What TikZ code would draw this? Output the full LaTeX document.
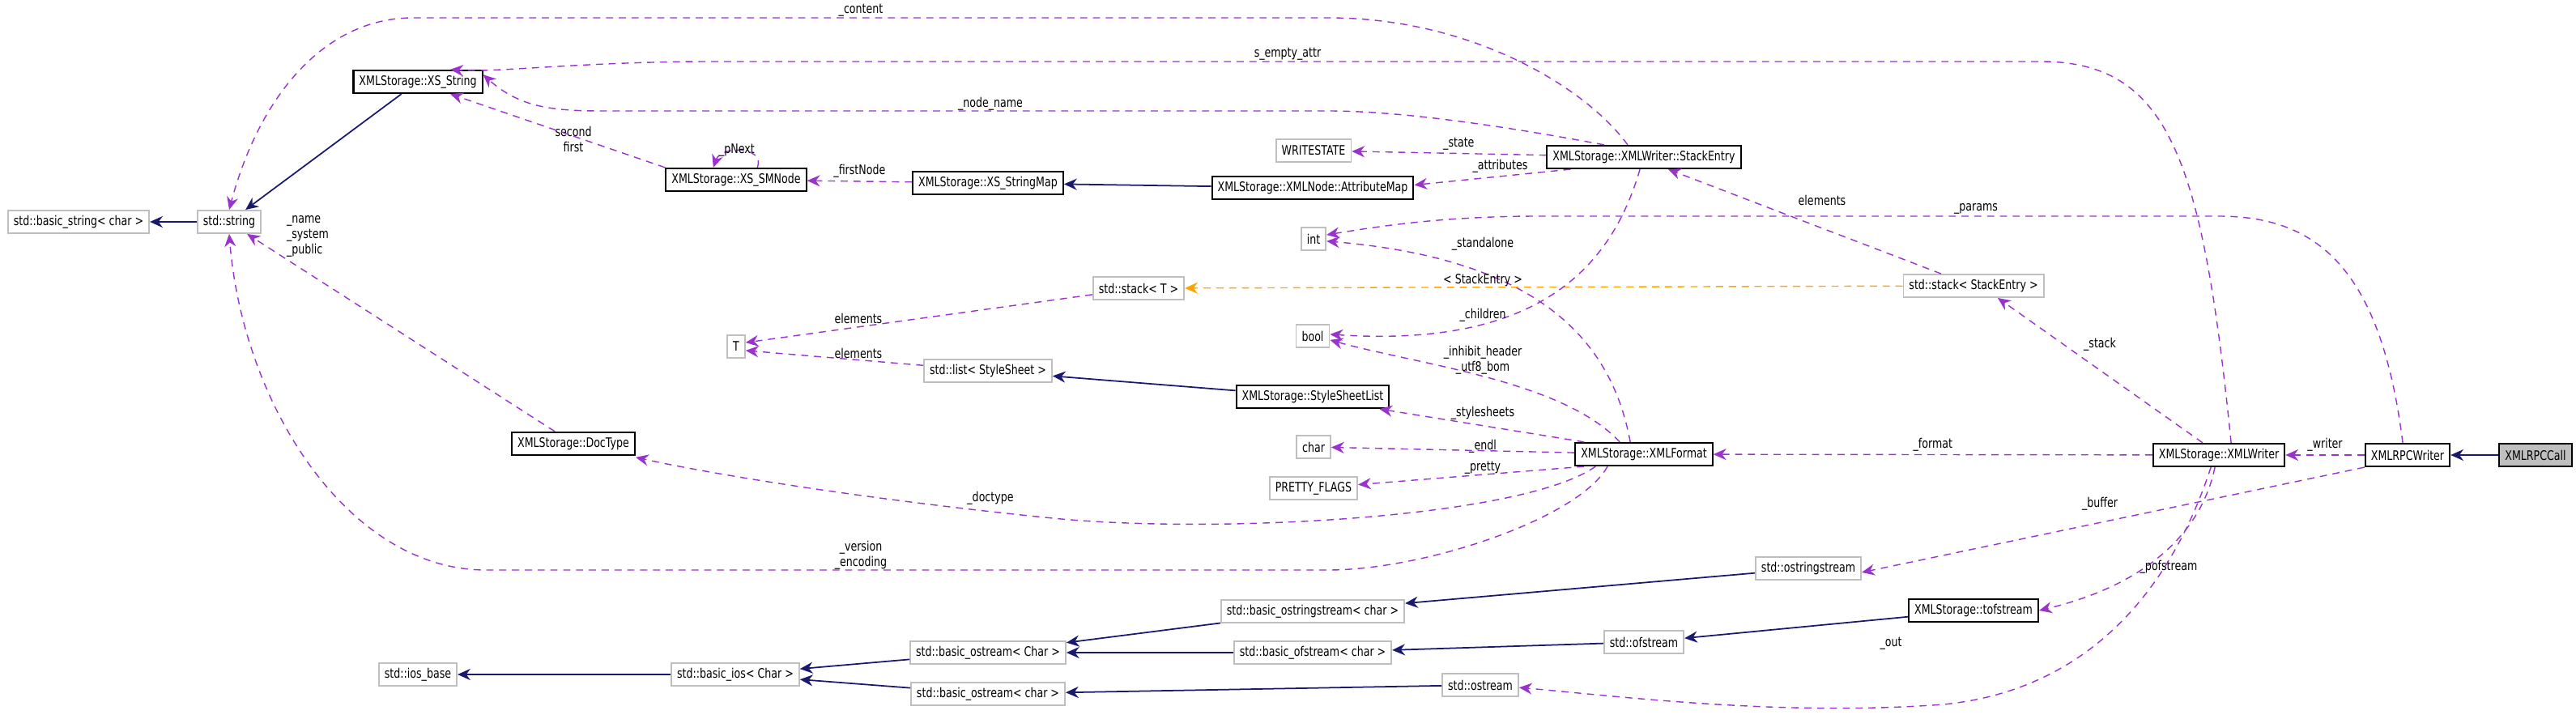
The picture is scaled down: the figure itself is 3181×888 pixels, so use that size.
\documentclass[tikz,border=0pt]{standalone}
\usepackage{fontspec}
\setmainfont{DejaVu Sans}[FakeStretch=0.78]
\usetikzlibrary{arrows.meta}
\definecolor{use}{HTML}{9A32CD}
\definecolor{inh}{HTML}{191970}
\definecolor{tmpl}{HTML}{FFA500}
\definecolor{gb}{HTML}{BFBFBF}
\begin{document}
\begin{tikzpicture}[x=0.01cm,y=-0.01cm,
  box/.style={draw=gb,line width=0.5pt,fill=white,minimum height=8pt,inner xsep=2pt,inner ysep=0pt,font=\fontsize{4.6}{5}\selectfont},
  doc/.style={box,draw=black,line width=0.6pt},
  usearr/.style={draw=use,line width=0.4pt,dash pattern=on 2.5pt off 2pt,-{Stealth[length=4.5pt,width=4pt]}},
  inharr/.style={draw=inh,line width=0.5pt,-{Stealth[length=4.5pt,width=4pt]}},
  tmplarr/.style={draw=tmpl,line width=0.4pt,dash pattern=on 2.5pt off 2pt,-{Stealth[length=4.5pt,width=4pt]}},
  lbl/.style={font=\fontsize{4.6}{5.4}\selectfont,align=center,inner sep=0pt}]
\useasboundingbox (0,0) rectangle (3181,888);
% nodes
\node[box] (bstr) at (97,274) {std::basic\_string< char >};
\node[box] (str) at (283,274) {std::string};
\node[doc] (xss) at (516,101) {XMLStorage::XS\_String};
\node[doc] (smn) at (909,222) {XMLStorage::XS\_SMNode};
\node[doc] (smap) at (1220,226) {XMLStorage::XS\_StringMap};
\node[doc] (amap) at (1621,232) {XMLStorage::XMLNode::AttributeMap};
\node[box] (ws) at (1622,186) {WRITESTATE};
\node[doc] (se) at (2030,194) {XMLStorage::XMLWriter::StackEntry};
\node[box] (int) at (1622,295) {int};
\node[box] (stT) at (1406,356) {std::stack< T >};
\node[box] (bool) at (1621,415) {bool};
\node[box] (T) at (909,428) {T};
\node[box] (lss) at (1220,458) {std::list< StyleSheet >};
\node[doc] (ssl) at (1621,490) {XMLStorage::StyleSheetList};
\node[box] (char) at (1622,552) {char};
\node[box] (pf) at (1622,603) {PRETTY\_FLAGS};
\node[doc] (fmt) at (2030,561) {XMLStorage::XMLFormat};
\node[doc] (dt) at (708,548) {XMLStorage::DocType};
\node[box] (stSE) at (2437,353) {std::stack< StackEntry >};
\node[doc] (wr) at (2740,562) {XMLStorage::XMLWriter};
\node[doc] (rpcw) at (2973,562) {XMLRPCWriter};
\node[doc,fill=gb] (rpcc) at (3131,562) {XMLRPCCall};
\node[box] (oss) at (2233,702) {std::ostringstream};
\node[doc] (tof) at (2437,754) {XMLStorage::tofstream};
\node[box] (bosss) at (1621,755) {std::basic\_ostringstream< char >};
\node[box] (ofs) at (2030,793) {std::ofstream};
\node[box] (bofs) at (1621,806) {std::basic\_ofstream< char >};
\node[box] (boC) at (1220,806) {std::basic\_ostream< Char >};
\node[box] (boc) at (1220,857) {std::basic\_ostream< char >};
\node[box] (os) at (1828,846) {std::ostream};
\node[box] (bios) at (908,833) {std::basic\_ios< Char >};
\node[box] (iosb) at (516,833) {std::ios\_base};
% inheritance
\draw[inharr] (str) -- (bstr);
\draw[inharr] (xss) -- (str);
\draw[inharr] (amap) -- (smap);
\draw[inharr] (ssl) -- (lss);
\draw[inharr] (oss) -- (bosss);
\draw[inharr] (bosss) -- (boC);
\draw[inharr] (bofs) -- (boC);
\draw[inharr] (ofs) -- (bofs);
\draw[inharr] (tof) -- (ofs);
\draw[inharr] (boC) -- (bios);
\draw[inharr] (boc) -- (bios);
\draw[inharr] (bios) -- (iosb);
\draw[inharr] (os) -- (boc);
\draw[inharr] (rpcc) -- (rpcw);
% usage
\draw[usearr] ([xshift=-5.7pt]se.north) .. controls (1960,110) and (1820,22) .. (1640,22) -- (510,22) .. controls (400,22) and (320,120) .. (str.north);
\node[lbl] at (1063,13) {\_content};
\draw[usearr] ([xshift=4.3pt]wr.north) .. controls (2720,200) and (2680,76) .. (2520,76) -- (880,76) .. controls (720,76) and (610,90) .. ([xshift=11.4pt]xss.north);
\node[lbl] at (1590,67) {s\_empty\_attr};
\draw[usearr] ([xshift=-14pt]se.north) .. controls (1880,160) and (1740,137) .. (1640,137) -- (780,137) .. controls (700,137) and (650,140) .. ([yshift=2.5pt]xss.east);
\node[lbl] at (1223,128) {\_node\_name};
\node[lbl] at (708,172) {second\\first};
\draw[usearr] (smn.north west) -- ([xshift=11.4pt]xss.south);
\draw[usearr] ([xshift=7.5pt]smn.north) .. controls (945,180) and (890,180) .. ([xshift=-8pt]smn.north);
\node[lbl] at (910,186) {\_pNext};
\draw[usearr] (smap) -- (smn) node[lbl,midway,above=1] {\_firstNode};
\draw[usearr] (se) -- (ws) node[lbl,pos=0.45,above=1] {\_state};
\draw[usearr] ([xshift=8.5pt]se.south west) -- ([yshift=1pt]amap.east) node[lbl,pos=0.45,above=1] {\_attributes};
\draw[usearr] ([xshift=-11.4pt]stSE.north) -- ([xshift=8.5pt]se.south);
\node[lbl] at (2250,247) {elements};
\draw[usearr] ([xshift=-1.7pt]rpcw.north) .. controls (2940,330) and (2860,267) .. (2740,267) -- (1900,267) .. controls (1780,267) and (1700,280) .. ([yshift=1.4pt]int.east);
\node[lbl] at (2440,258) {\_params};
\draw[usearr] ([xshift=-4.8pt]fmt.north) .. controls (1990,420) and (1900,320) .. ([yshift=-0.8pt]int.east);
\node[lbl] at (1831,301) {\_standalone};
\draw[usearr] (stT) -- ([yshift=1.4pt]T.east);
\node[lbl] at (1060,393) {elements};
\draw[usearr] (lss) -- ([yshift=-1.4pt]T.east);
\node[lbl] at (1060,436) {elements};
\draw[tmplarr] (stSE) -- (stT);
\node[lbl] at (1831,346) {< StackEntry >};
\draw[usearr] ([xshift=-1.4pt]se.south) .. controls (1990,330) and (1900,430) .. ([yshift=0.6pt]bool.east);
\node[lbl] at (1831,389) {\_children};
\draw[usearr] ([xshift=-8.5pt]fmt.north) .. controls (1930,470) and (1750,450) .. ([yshift=-1.4pt]bool.east);
\node[lbl] at (1831,445) {\_inhibit\_header\\\_utf8\_bom};
\draw[usearr] ([xshift=-21pt]fmt.north) -- ([xshift=-3.7pt]ssl.south east);
\node[lbl] at (1831,510) {\_stylesheets};
\draw[usearr] (fmt) -- (char);
\node[lbl] at (1831,551) {\_endl};
\draw[usearr] ([xshift=-21pt]fmt.south) -- (pf);
\node[lbl] at (1831,578) {\_pretty};
\draw[usearr] ([xshift=-17pt]fmt.south) .. controls (1880,640) and (1500,660) .. (1300,640) .. controls (1100,620) and (900,590) .. ([yshift=-0.5pt]dt.south east);
\node[lbl] at (1223,615) {\_doctype};
\draw[usearr] ([xshift=-12.8pt]fmt.south) .. controls (1950,640) and (1760,704) .. (1640,704) -- (600,704) .. controls (430,704) and (300,500) .. (str.south);
\node[lbl] at (1063,686) {\_version\\\_encoding};
\draw[usearr] ([xshift=-6.5pt]dt.north) -- ([xshift=6.3pt]str.south);
\node[lbl,align=left] at (380,292) {\_name\\\_system\\\_public};
\draw[usearr] ([xshift=-5.7pt]wr.north) -- ([xshift=8.5pt]stSE.south);
\node[lbl] at (2593,425) {\_stack};
\draw[usearr] (wr) -- (fmt) node[lbl,midway,above=1] {\_format};
\draw[usearr] (rpcw) -- (wr) node[lbl,midway,above=1] {\_writer};
\draw[usearr] (rpcw.south west) -- ([yshift=-1.4pt]oss.east);
\node[lbl] at (2593,622) {\_buffer};
\draw[usearr] ([xshift=-1.4pt]wr.south) .. controls (2720,650) and (2660,720) .. (tof.east);
\node[lbl] at (2678,700) {\_pofstream};
\draw[usearr] ([xshift=-2.8pt]wr.south) .. controls (2690,700) and (2600,850) .. (2400,870) .. controls (2200,885) and (2000,860) .. ([yshift=-0.9pt]os.east);
\node[lbl] at (2335,795) {\_out};
\end{tikzpicture}
\end{document}
